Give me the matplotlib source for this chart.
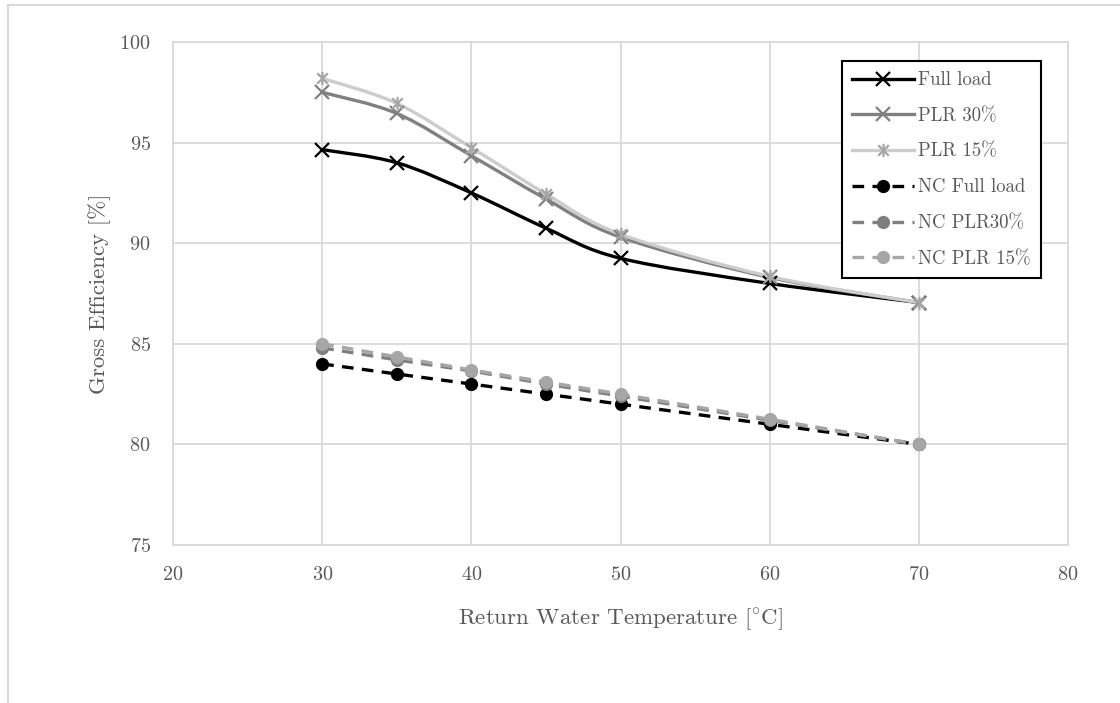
import matplotlib
matplotlib.use("Agg")
import numpy as np
import matplotlib.pyplot as plt
from matplotlib.path import Path
from matplotlib.patches import PathPatch, Rectangle
from matplotlib.lines import Line2D

plt.rcParams['font.family'] = ['cmr10', 'DejaVu Serif']
plt.rcParams['mathtext.fontset'] = 'cm'
plt.rcParams['axes.formatter.use_mathtext'] = True

# 回水温度 [°C]
temps = [30, 35, 40, 45, 50, 60, 70]

# 冷凝式锅炉效率 [%]
full_load = [94.65, 94.0, 92.5, 90.75, 89.25, 88.0, 87.05]
plr_30 = [97.5, 96.45, 94.35, 92.2, 90.3, 88.3, 87.05]
plr_15 = [98.2, 96.95, 94.75, 92.45, 90.45, 88.35, 87.05]

# 非冷凝式锅炉效率 [%]
nc_full_load = [84.0, 83.5, 83.0, 82.5, 82.0, 81.0, 80.0]
nc_plr_30 = [84.8, 84.2, 83.65, 83.0, 82.4, 81.2, 80.0]
nc_plr_15 = [85.0, 84.35, 83.7, 83.1, 82.5, 81.25, 80.0]

series_labels = ["Full load", "PLR 30%", "PLR 15%",
                 "NC Full load", "NC PLR30%", "NC PLR 15%"]

text_col = '#595959'
grid_col = '#d9d9d9'

# 星形标记: x 加一条竖线
star = Path([(-1, -1), (1, 1), (-1, 1), (1, -1), (0, -1.25), (0, 1.25)],
            [Path.MOVETO, Path.LINETO, Path.MOVETO, Path.LINETO,
             Path.MOVETO, Path.LINETO])


def smooth_path(x, y):
    # 平滑曲线 (三次贝塞尔, Catmull-Rom 控制点)
    p = np.column_stack([x, y]).astype(float)
    n = len(p)
    verts = [p[0]]
    codes = [Path.MOVETO]
    for i in range(n - 1):
        p0 = p[i - 1] if i > 0 else p[i]
        p3 = p[i + 2] if i + 2 < n else p[i + 1]
        c1 = p[i] + (p[i + 1] - p0) / 6
        c2 = p[i + 1] - (p3 - p[i]) / 6
        verts += [c1, c2, p[i + 1]]
        codes += [Path.CURVE4] * 3
    return Path(verts, codes)


fig = plt.figure(figsize=(11.2, 7.03), dpi=100)
ax = fig.add_axes([173 / 1120, 1 - 545 / 703, (1068 - 173) / 1120, (545 - 42) / 703])

# 图表外框
fig.patches.append(Rectangle((8 / 1120, -0.1), 1.2, 1 - 5 / 703 + 0.1,
                             transform=fig.transFigure, fill=False,
                             edgecolor=grid_col, lw=1.5))

lw = 2.4
smooth_series = [
    (full_load, 'black', 'black', 'x'),
    (plr_30, '#808080', '#808080', 'x'),
    (plr_15, '#cccccc', '#a6a6a6', star),
]
handles = []
for (vals, lc, mc, mk), lab in zip(smooth_series, series_labels[:3]):
    ax.add_patch(PathPatch(smooth_path(temps, vals), fill=False, edgecolor=lc,
                           lw=lw, capstyle='round', zorder=3))
    ax.plot(temps, vals, ls='none', marker=mk, ms=9.5, mew=1.6, mec=mc, mfc=mc, zorder=4)
    handles.append(Line2D([], [], color=lc, lw=lw, marker=mk, ms=9.5, mew=1.6,
                          mec=mc, mfc=mc, label=lab))

nc_series = [
    (nc_full_load, 'black'),
    (nc_plr_30, '#7f7f7f'),
    (nc_plr_15, '#a6a6a6'),
]
for (vals, c), lab in zip(nc_series, series_labels[3:]):
    ax.plot(temps, vals, color=c, lw=lw, ls=(0, (3.5, 2.5)), marker='o', ms=8.5,
            mfc=c, mec=c, zorder=5, label=lab)
    handles.append(Line2D([], [], color=c, lw=lw, ls=(0, (3.5, 2.5)), marker='o',
                          ms=8.5, mfc=c, mec=c, label=lab))

ax.set_xlim(20, 80)
ax.set_ylim(75, 100)
ax.set_xticks(np.arange(20, 81, 10))
ax.set_yticks(np.arange(75, 101, 5))
ax.grid(True, color=grid_col, lw=1.3)
ax.set_axisbelow(True)
for s in ax.spines.values():
    s.set_color(grid_col)
    s.set_linewidth(1.3)
ax.tick_params(length=0, labelsize=14.5, labelcolor=text_col)
ax.tick_params(axis='y', pad=16)
ax.tick_params(axis='x', pad=15)

ax.set_xlabel(r"Return Water Temperature [$^{\circ}$C]", fontsize=16.5,
              color=text_col, va='center')
ax.set_ylabel("Gross Efficiency [%]", fontsize=16.5, color=text_col, va='center')
ax.xaxis.set_label_coords(0.5, -(620 - 545) / 503)
ax.yaxis.set_label_coords(-(173 - 100) / 895, 0.5)

leg = ax.legend(handles=handles, loc='upper right',
                bbox_to_anchor=(1041 / 1120, 1 - 61 / 703),
                bbox_transform=fig.transFigure, borderaxespad=0,
                fancybox=False, edgecolor='black', framealpha=1,
                fontsize=13.5, handlelength=3.3, handletextpad=0.2,
                labelspacing=0.95, numpoints=1, borderpad=0.55)
leg.get_frame().set_linewidth(1.5)
for t in leg.get_texts():
    t.set_color(text_col)

fig.savefig("out.png", dpi=100)
